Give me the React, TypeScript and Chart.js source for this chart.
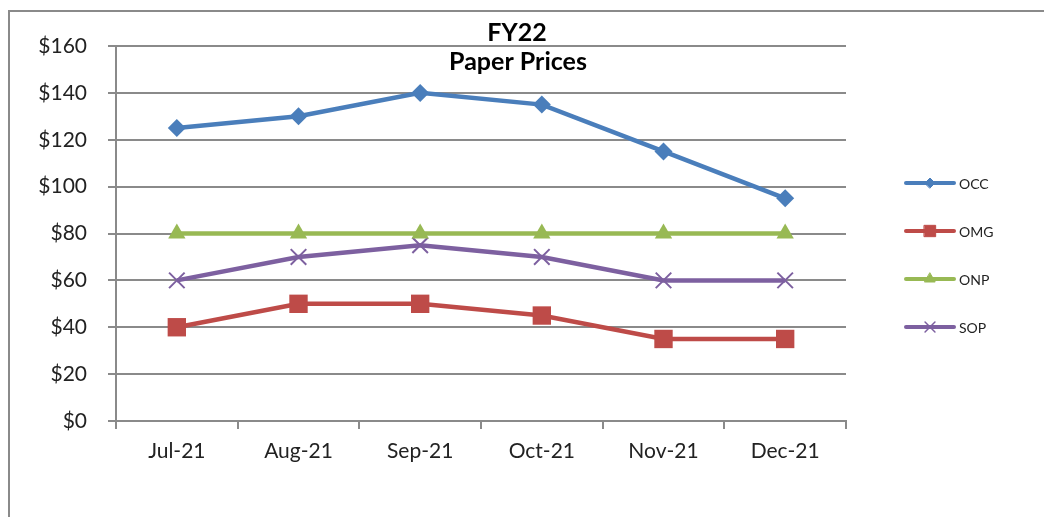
import React, { useEffect, useRef } from "react";
import { Chart, registerables } from "chart.js";
import { drawPoint } from "chart.js/helpers";

Chart.register(...registerables);

const categories = ["Jul-21", "Aug-21", "Sep-21", "Oct-21", "Nov-21", "Dec-21"];
const occ = [125, 130, 140, 135, 115, 95];
const omg = [40, 50, 50, 45, 35, 35];
const onp = [80, 80, 80, 80, 80, 80];
const sop = [60, 70, 75, 70, 60, 60];
const titleLines = ["FY22", "Paper Prices"];

const FONT = "Lato, 'Open Sans', sans-serif";
const GRID = "#8a8a8a";

const seriesDefs = [
  { label: "OCC", data: occ, color: "#4A7EBB", style: "rectRot", r: 9, lr: 5, bw: 0 },
  { label: "OMG", data: omg, color: "#BE4B48", style: "rect", r: 13, lr: 8, bw: 0 },
  { label: "ONP", data: onp, color: "#98B954", style: "triangle", r: 10, lr: 6, bw: 0 },
  { label: "SOP", data: sop, color: "#7D60A0", style: "crossRot", r: 11, lr: 7, bw: 2 },
];

const framePlugin = {
  id: "frame",
  beforeDraw(chart: any) {
    const ctx = chart.ctx;
    ctx.save();
    ctx.strokeStyle = "#8a8a8a";
    ctx.lineWidth = 2;
    ctx.beginPath();
    ctx.moveTo(9, 2000);
    ctx.lineTo(9, 11);
    ctx.lineTo(2000, 11);
    ctx.stroke();
    ctx.restore();
  },
  afterDatasetsDraw(chart: any) {
    const ctx = chart.ctx;
    ctx.save();
    // title
    ctx.fillStyle = "#000";
    ctx.font = `bold 25px ${FONT}`;
    ctx.textAlign = "center";
    ctx.textBaseline = "alphabetic";
    ctx.fillText(titleLines[0], 517, 41);
    ctx.fillText(titleLines[1], 518, 70);
    // legend
    const ys = [183, 231, 279, 327];
    seriesDefs.forEach((s, i) => {
      const y = ys[i];
      ctx.strokeStyle = s.color;
      ctx.lineWidth = 4;
      ctx.lineCap = "round";
      ctx.beginPath();
      ctx.moveTo(906, y);
      ctx.lineTo(954, y);
      ctx.stroke();
      ctx.fillStyle = s.color;
      ctx.strokeStyle = s.color;
      ctx.lineWidth = s.style === "crossRot" ? 1.5 : 1;
      drawPoint(ctx, { pointStyle: s.style as any, radius: s.lr, rotation: 0, borderWidth: ctx.lineWidth } as any, 930, y);
      ctx.fillStyle = "#222";
      ctx.font = `14px ${FONT}`;
      ctx.textAlign = "left";
      ctx.textBaseline = "middle";
      ctx.fillText(s.label, 959, y + 1);
    });
    ctx.restore();
  },
};

export default function App() {
  const ref = useRef<HTMLCanvasElement>(null);
  useEffect(() => {
    if (!ref.current) return;
    const chart = new Chart(ref.current, {
      type: "line",
      data: {
        labels: categories,
        datasets: seriesDefs.map((s) => ({
          label: s.label,
          data: s.data,
          borderColor: s.color,
          backgroundColor: s.color,
          borderWidth: 4.5,
          pointStyle: s.style as any,
          pointRadius: s.r,
          pointBorderWidth: s.bw,
          pointBorderColor: s.color,
          pointBackgroundColor: s.color,
          tension: 0,
          fill: false,
        })),
      },
      options: {
        animation: false,
        responsive: false,
        devicePixelRatio: 1,
        layout: { padding: { left: 0, top: 46, right: 198, bottom: 0 } },
        plugins: {
          legend: { display: false },
          title: { display: false },
          tooltip: { enabled: false },
        },
        scales: {
          x: {
            offset: true,
            grid: {
              offset: true,
              drawOnChartArea: false,
              drawTicks: true,
              tickLength: 8,
              color: GRID,
              lineWidth: 2,
            },
            border: { color: GRID, width: 2 },
            ticks: {
              color: "#222",
              font: { family: FONT, size: 21 },
              padding: 10,
              maxRotation: 0,
            },
            afterFit: (scale: any) => {
              scale.height = 96;
            },
          },
          y: {
            min: 0,
            max: 160,
            ticks: {
              stepSize: 20,
              color: "#222",
              font: { family: FONT, size: 21 },
              padding: 21,
              callback: (v: any) => `$${v}`,
            },
            grid: { color: GRID, lineWidth: 2, tickLength: 8, drawTicks: true },
            border: { color: GRID, width: 2 },
            afterFit: (scale: any) => {
              scale.width = 116;
            },
          },
        },
      },
      plugins: [framePlugin],
    });
    return () => chart.destroy();
  }, []);
  return (
    <div style={{ position: "fixed", left: 0, top: 0, width: 1044, height: 517, background: "#fff" }}>
      <canvas ref={ref} width={1044} height={517} style={{ width: 1044, height: 517, display: "block" }} />
    </div>
  );
}
